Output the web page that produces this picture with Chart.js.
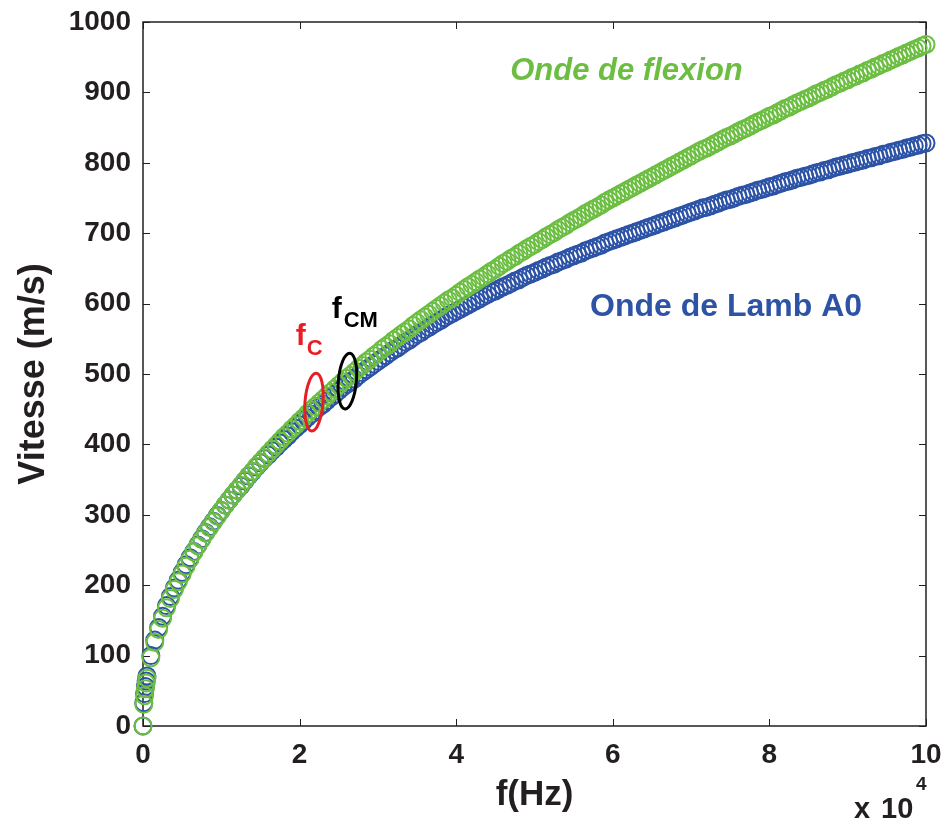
<!DOCTYPE html>
<html><head><meta charset="utf-8">
<script src="https://cdn.jsdelivr.net/npm/chart.js@4/dist/chart.umd.min.js"></script>
<style>html,body{margin:0;padding:0;background:#fff}#wrap{width:946px;height:824px;position:relative}canvas{display:block}</style>
</head><body><div id="wrap"><canvas id="c" width="946" height="824"></canvas></div>
<script>
// Frequency (x 10^4 Hz)
const freq = [0,0.01,0.02,0.03,0.04,
0.05,0.1,0.15,0.2,0.25,0.3,0.35,0.4,0.45,0.5,0.55,0.6,0.65,0.7,0.75,0.8,0.85,0.9,0.95,1,
1.05,1.1,1.15,1.2,1.25,1.3,1.35,1.4,1.45,1.5,1.55,1.6,1.65,1.7,1.75,1.8,1.85,1.9,1.95,2,
2.05,2.1,2.15,2.2,2.25,2.3,2.35,2.4,2.45,2.5,2.55,2.6,2.65,2.7,2.75,2.8,2.85,2.9,2.95,3,
3.05,3.1,3.15,3.2,3.25,3.3,3.35,3.4,3.45,3.5,3.55,3.6,3.65,3.7,3.75,3.8,3.85,3.9,3.95,4,
4.05,4.1,4.15,4.2,4.25,4.3,4.35,4.4,4.45,4.5,4.55,4.6,4.65,4.7,4.75,4.8,4.85,4.9,4.95,5,
5.05,5.1,5.15,5.2,5.25,5.3,5.35,5.4,5.45,5.5,5.55,5.6,5.65,5.7,5.75,5.8,5.85,5.9,5.95,6,
6.05,6.1,6.15,6.2,6.25,6.3,6.35,6.4,6.45,6.5,6.55,6.6,6.65,6.7,6.75,6.8,6.85,6.9,6.95,7,
7.05,7.1,7.15,7.2,7.25,7.3,7.35,7.4,7.45,7.5,7.55,7.6,7.65,7.7,7.75,7.8,7.85,7.9,7.95,8,
8.05,8.1,8.15,8.2,8.25,8.3,8.35,8.4,8.45,8.5,8.55,8.6,8.65,8.7,8.75,8.8,8.85,8.9,8.95,9,
9.05,9.1,9.15,9.2,9.25,9.3,9.35,9.4,9.45,9.5,9.55,9.6,9.65,9.7,9.75,9.8,9.85,9.9,9.95,10];

// Velocity (m/s) – Onde de flexion
const vFlexion = [0,31,43,53,61,
68,97,119,137,153,168,181,194,205,216,227,237,247,256,265,274,282,290,298,306,
314,321,328,335,342,349,356,362,369,375,381,387,393,399,405,411,416,422,427,433,
438,444,449,454,459,464,469,474,479,484,489,494,498,503,508,512,517,521,526,530,
535,539,543,548,552,556,560,564,569,573,577,581,585,589,593,597,601,605,608,612,
616,620,624,627,631,635,638,642,646,649,653,657,660,664,667,671,674,678,681,684,
688,691,695,698,701,705,708,711,715,718,721,724,728,731,734,737,740,744,747,750,
753,756,759,762,765,768,771,774,777,780,783,786,789,792,795,798,801,804,807,810,
813,816,819,821,824,827,830,833,836,838,841,844,847,849,852,855,858,860,863,866,
868,871,874,877,879,882,885,887,890,892,895,898,900,903,905,908,911,913,916,918,
921,923,926,928,931,933,936,938,941,943,946,948,951,953,956,958,961,963,966,968];

// Velocity (m/s) – Onde de Lamb A0
const vLambA0 = [0,33,46,56,64,
71,100,122,140,156,171,184,196,207,218,229,239,248,257,266,275,283,291,299,306,
314,321,328,335,341,348,355,361,368,374,380,385,391,396,402,407,412,418,423,428,
433,438,443,448,453,457,462,467,471,476,481,485,489,493,498,502,506,510,514,518,
522,526,530,534,537,541,545,548,552,556,559,563,566,570,573,576,580,583,586,589,
592,595,598,601,604,607,610,613,616,618,621,624,626,629,632,634,637,640,642,644,
647,649,652,654,656,659,661,663,666,668,670,672,675,677,679,681,683,686,688,690,
692,694,696,698,700,702,704,706,708,710,712,714,716,718,720,722,724,726,728,730,
732,734,736,737,739,741,743,745,747,748,750,752,754,755,757,759,761,762,764,766,
767,769,771,773,774,776,778,779,781,782,784,786,787,789,790,792,794,795,797,798,
800,801,803,804,806,807,809,810,812,813,815,816,818,819,821,822,824,825,827,828];

const xTicks = [0,2,4,6,8,10];
const yTicks = [0,100,200,300,400,500,600,700,800,900,1000];

const GREEN = 'rgb(108,190,66)';
const BLUE = 'rgb(44,83,166)';
const RED = 'rgb(232,30,37)';
const DARK = '#231f20';
const FAM = '"Liberation Sans", Arial, Helvetica, sans-serif';

const toPts = (xs, ys) => xs.map((x, i) => ({x: x, y: ys[i]}));

const decor = {
  id: 'decor',
  beforeDatasetsDraw(chart) {
    const {ctx, chartArea: a, scales: {x, y}} = chart;
    ctx.save();
    ctx.strokeStyle = DARK;
    ctx.lineWidth = 1.5;
    ctx.strokeRect(a.left, a.top, a.right - a.left, a.bottom - a.top);
    ctx.lineWidth = 1;
    const tl = 7;
    ctx.beginPath();
    yTicks.forEach(v => {
      const py = Math.round(y.getPixelForValue(v)) + 0.5;
      ctx.moveTo(a.left, py); ctx.lineTo(a.left + tl, py);
      ctx.moveTo(a.right, py); ctx.lineTo(a.right - tl, py);
    });
    xTicks.forEach(v => {
      const px = Math.round(x.getPixelForValue(v)) + 0.5;
      ctx.moveTo(px, a.bottom); ctx.lineTo(px, a.bottom - tl);
      ctx.moveTo(px, a.top); ctx.lineTo(px, a.top + tl);
    });
    ctx.stroke();
    ctx.restore();
  },
  afterDraw(chart) {
    const {ctx, chartArea: a, scales: {x, y}} = chart;
    ctx.save();
    // ellipses
    const ell = (f, v, rx, ry, rot, col) => {
      ctx.beginPath();
      ctx.ellipse(x.getPixelForValue(f), y.getPixelForValue(v), rx, ry, rot, 0, Math.PI * 2);
      ctx.strokeStyle = col; ctx.lineWidth = 3; ctx.stroke();
    };
    ell(2.184, 460, 9, 29, 0.08, RED);
    ell(2.61, 490, 9, 28, 0.09, '#000');

    ctx.textBaseline = 'alphabetic';
    ctx.textAlign = 'left';
    // series labels
    ctx.fillStyle = GREEN;
    ctx.font = 'italic bold 31px ' + FAM;
    ctx.fillText('Onde de flexion', x.getPixelForValue(4.69), y.getPixelForValue(918));
    ctx.fillStyle = BLUE;
    ctx.font = 'bold 32px ' + FAM;
    ctx.fillText('Onde de Lamb A0', x.getPixelForValue(5.71), y.getPixelForValue(582));

    // f_C
    let px = x.getPixelForValue(1.95), py = y.getPixelForValue(541);
    ctx.fillStyle = RED;
    ctx.font = 'bold 30px ' + FAM;
    ctx.fillText('f', px, py);
    ctx.font = 'bold 22px ' + FAM;
    ctx.fillText('C', px + 11, py + 10);
    // f_CM
    px = x.getPixelForValue(2.41); py = y.getPixelForValue(580);
    ctx.fillStyle = '#000';
    ctx.font = 'bold 30px ' + FAM;
    ctx.fillText('f', px, py);
    ctx.font = 'bold 22px ' + FAM;
    ctx.fillText('CM', px + 12, py + 9);

    // x 10^4
    ctx.fillStyle = DARK;
    ctx.font = 'bold 29px ' + FAM;
    ctx.fillText('x', a.right - 72, a.bottom + 92);
    ctx.fillText('10', a.right - 45, a.bottom + 92);
    ctx.font = 'bold 19px ' + FAM;
    ctx.fillText('4', a.right - 10, a.bottom + 64);
    ctx.restore();
  }
};

new Chart(document.getElementById('c'), {
  type: 'scatter',
  data: {
    datasets: [
      {label: 'Onde de flexion', data: toPts(freq, vFlexion), borderColor: GREEN, backgroundColor: 'rgba(0,0,0,0)',
       pointRadius: 8.5, pointBorderWidth: 2, pointStyle: 'circle', showLine: false, clip: false},
      {label: 'Onde de Lamb A0', data: toPts(freq, vLambA0), borderColor: BLUE, backgroundColor: 'rgba(0,0,0,0)',
       pointRadius: 8.5, pointBorderWidth: 2, pointStyle: 'circle', showLine: false, clip: false}
    ]
  },
  options: {
    responsive: false,
    devicePixelRatio: 1,
    animation: false,
    events: [],
    layout: {padding: {top: 22, left: 0, right: 20, bottom: 0}},
    plugins: {legend: {display: false}, tooltip: {enabled: false}},
    scales: {
      x: {
        type: 'linear', min: 0, max: 10,
        afterBuildTicks: s => { s.ticks = xTicks.map(v => ({value: v})); },
        afterFit: s => { s.height = 98; s.paddingLeft = 0; s.paddingRight = 0; },
        grid: {display: false, drawTicks: false},
        border: {display: false},
        ticks: {color: DARK, font: {family: FAM, weight: 'bold', size: 28}, padding: 12, maxRotation: 0,
                callback: v => String(v)},
        title: {display: true, text: 'f(Hz)', color: DARK, font: {family: FAM, weight: 'bold', size: 35}, padding: {top: 0, bottom: 8}}
      },
      y: {
        type: 'linear', min: 0, max: 1000,
        afterBuildTicks: s => { s.ticks = yTicks.map(v => ({value: v})); },
        afterFit: s => { s.width = 143; s.paddingTop = 0; s.paddingBottom = 0; },
        grid: {display: false, drawTicks: false},
        border: {display: false},
        ticks: {color: DARK, font: {family: FAM, weight: 'bold', size: 28}, padding: 12,
                callback: v => String(v)},
        title: {display: true, text: 'Vitesse (m/s)', color: DARK, font: {family: FAM, weight: 'bold', size: 36}, padding: {top: 12, bottom: 0}}
      }
    }
  },
  plugins: [decor]
});
</script>
</body></html>
